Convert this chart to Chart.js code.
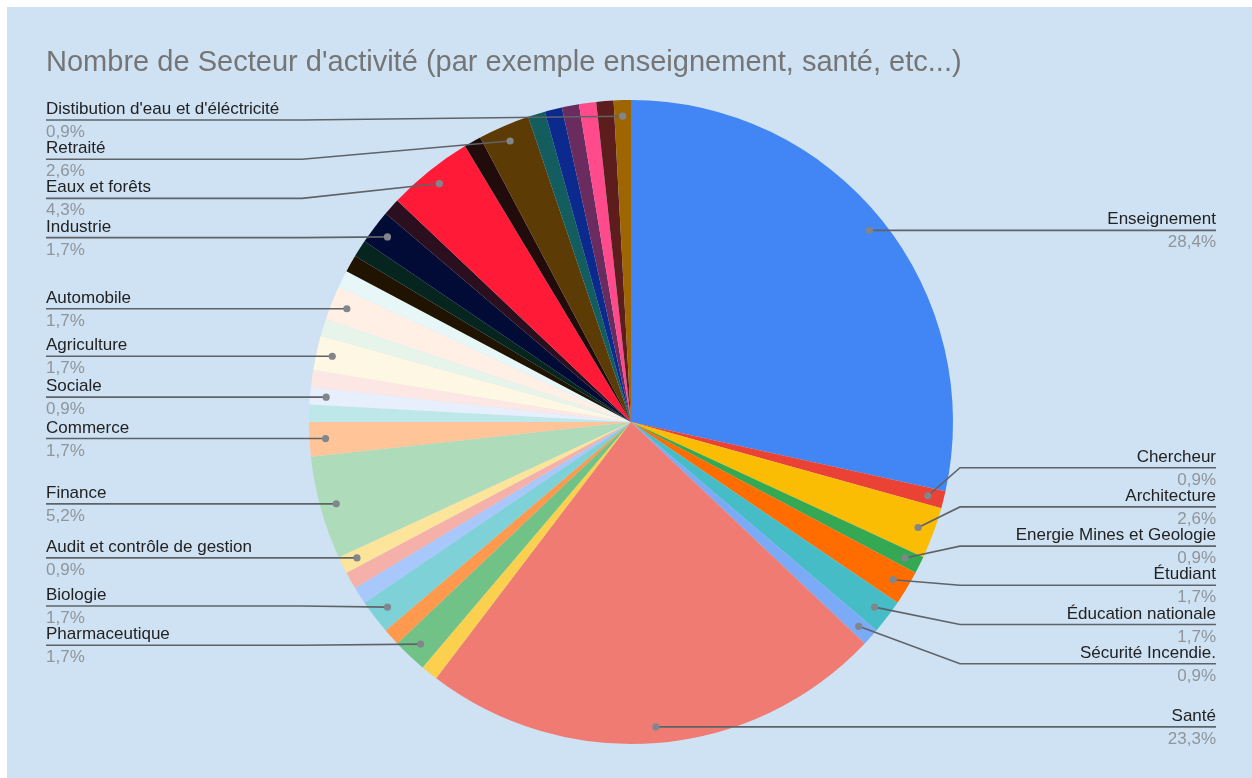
<!DOCTYPE html>
<html>
<head>
<meta charset="utf-8">
<script src="https://cdn.jsdelivr.net/npm/chart.js@4"></script>
<style>
html,body{margin:0;padding:0;background:#ffffff;}
#wrap{position:absolute;left:0;top:0;width:1252px;height:778px;}
canvas{display:block;}
</style>
</head>
<body>
<div id="wrap"><canvas id="c" width="1252" height="778"></canvas></div>
<script>
// ---- data (clockwise from 12 o'clock) ----
const chartTitle = "Nombre de Secteur d'activité (par exemple enseignement, santé, etc...)";
// '' = slice whose name is not shown in the picture
const categories = [
  "Enseignement", "Chercheur", "Architecture", "Energie Mines et Geologie", "Étudiant",
  "Éducation nationale", "Sécurité Incendie.", "Santé", "", "Pharmaceutique",
  "", "Biologie", "", "", "Audit et contrôle de gestion",
  "Finance", "Commerce", "", "Sociale", "",
  "Agriculture", "", "Automobile", "", "",
  "", "Industrie", "", "Eaux et forêts", "",
  "Retraité", "", "", "", "",
  "", "Distibution d'eau et d'éléctricité"
];
const counts = [
  33, 1, 3, 1, 2,
  2, 1, 27, 1, 2,
  1, 2, 1, 1, 1,
  6, 2, 1, 1, 1,
  2, 1, 2, 1, 1,
  1, 2, 1, 5, 1,
  3, 1, 1, 1, 1,
  1, 1
];
const sliceColors = [
  "#4285F4", "#EA4335", "#FBBC04", "#34A853", "#FF6D01",
  "#46BDC6", "#7BAAF7", "#F07B72", "#FCD04F", "#71C287",
  "#FF994D", "#7ED1D7", "#A8C7FA", "#F5B0AA", "#FDE49B",
  "#AEDCBB", "#FFC599", "#BEE7EA", "#E7EFFC", "#FDE7E5",
  "#FEF7E3", "#E6F4EA", "#FFEFE4", "#E7F6F7", "#201300",
  "#07251F", "#020B35", "#2B0F1F", "#FF1B37", "#220B0B",
  "#5D3B05", "#135D5E", "#0C2A8E", "#6A2C5E", "#FF4B8B",
  "#5E1D1D", "#9E6503"
];

const total = counts.reduce((a, b) => a + b, 0);
function pctText(v) { return (v / total * 100).toFixed(1).replace('.', ',') + '%'; }

const FONT = '"Liberation Sans", Arial, sans-serif';

const bgPlugin = {
  id: 'bg',
  beforeDraw(chart) {
    const ctx = chart.ctx;
    ctx.save();
    ctx.fillStyle = '#ffffff';
    ctx.fillRect(0, 0, chart.width, chart.height);
    ctx.fillStyle = '#CFE2F3';
    ctx.fillRect(7, 7, chart.width - 7, chart.height - 7);
    ctx.restore();
  }
};

function layoutSide(items, minY, maxY, gap) {
  items.sort((a, b) => a.ideal - b.ideal);
  let clusters = items.map(it => ({ items: [it] }));
  function place(c) {
    const n = c.items.length;
    const mean = c.items.reduce((s, it) => s + it.ideal, 0) / n;
    let top = mean - (n - 1) * gap / 2;
    top = Math.min(top, maxY - (n - 1) * gap);
    top = Math.max(top, minY);
    c.top = top;
  }
  let changed = true;
  while (changed) {
    changed = false;
    clusters.forEach(place);
    for (let i = 1; i < clusters.length; i++) {
      const p = clusters[i - 1], c = clusters[i];
      if (c.top < p.top + p.items.length * gap - 0.01) {
        p.items = p.items.concat(c.items);
        clusters.splice(i, 1);
        changed = true;
        break;
      }
    }
  }
  clusters.forEach(c => c.items.forEach((it, k) => { it.y = c.top + k * gap; }));
}

const labelPlugin = {
  id: 'labels',
  afterDraw(chart) {
    const ctx = chart.ctx;
    const meta = chart.getDatasetMeta(0);
    const left = [], right = [];
    meta.data.forEach((arc, i) => {
      if (!categories[i]) return;
      const mid = (arc.startAngle + arc.endAngle) / 2;
      const R = arc.outerRadius;
      const dx = arc.x + Math.cos(mid) * R * 0.95;
      const dy = arc.y + Math.sin(mid) * R * 0.95;
      const item = { i, dx, dy, ideal: dy, cx: arc.x, R };
      (Math.cos(mid) >= 0 ? right : left).push(item);
    });
    const gap = 39.2;
    layoutSide(left, 120, 745, gap);
    layoutSide(right, 120, 745, gap);

    ctx.save();
    // title
    let fs = 28;
    ctx.font = fs + 'px ' + FONT;
    const w = ctx.measureText(chartTitle).width;
    fs = fs * 916 / w;
    ctx.font = fs.toFixed(2) + 'px ' + FONT;
    ctx.fillStyle = '#757575';
    ctx.textAlign = 'left';
    ctx.textBaseline = 'alphabetic';
    ctx.fillText(chartTitle, 46, 71);

    function drawItem(it, isRight) {
      const bendX = isRight ? it.cx + it.R + 7 : it.cx - it.R - 7;
      const edgeX = isRight ? 1216 : 46;
      ctx.strokeStyle = '#5F6368';
      ctx.lineWidth = 1.6;
      ctx.beginPath();
      ctx.moveTo(edgeX, it.y);
      ctx.lineTo(bendX, it.y);
      ctx.lineTo(it.dx, it.dy);
      ctx.stroke();
      ctx.fillStyle = '#80868B';
      ctx.beginPath();
      ctx.arc(it.dx, it.dy, 3.6, 0, Math.PI * 2);
      ctx.fill();
      ctx.font = '17px ' + FONT;
      ctx.textAlign = isRight ? 'right' : 'left';
      ctx.textBaseline = 'alphabetic';
      ctx.fillStyle = '#222222';
      ctx.fillText(categories[it.i], edgeX, it.y - 6);
      ctx.fillStyle = '#8E959B';
      ctx.fillText(pctText(counts[it.i]), edgeX, it.y + 17);
    }
    left.forEach(it => drawItem(it, false));
    right.forEach(it => drawItem(it, true));
    ctx.restore();
  }
};

new Chart(document.getElementById('c'), {
  type: 'pie',
  data: {
    labels: categories,
    datasets: [{
      data: counts,
      backgroundColor: sliceColors,
      borderWidth: 0,
      hoverOffset: 0,
      offset: 0
    }]
  },
  options: {
    responsive: false,
    animation: false,
    layout: { padding: { left: 309, right: 299, top: 100, bottom: 34 } },
    plugins: {
      legend: { display: false },
      tooltip: { enabled: false },
      title: { display: false }
    }
  },
  plugins: [bgPlugin, labelPlugin]
});
</script>
</body>
</html>
